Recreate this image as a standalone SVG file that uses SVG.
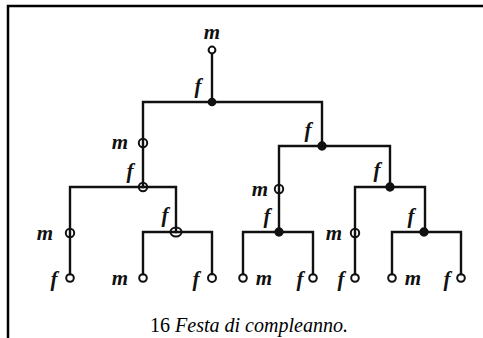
<svg xmlns="http://www.w3.org/2000/svg" width="483" height="338" viewBox="0 0 483 338">
  <style>
    .frame { stroke: #000; stroke-width: 2.5; fill: none; }
    .edge { stroke: #111; stroke-width: 2.4; fill: none; stroke-linecap: square; }
    .open { fill: none; stroke: #111; stroke-width: 2; }
    .dot { fill: #111; stroke: #111; stroke-width: 1.5; }
    .lbl { font-family: "Liberation Serif", "DejaVu Serif", serif; font-style: italic; font-weight: bold; font-size: 21px; fill: #111; }
    .cap { font-family: "Liberation Serif", "DejaVu Serif", serif; font-size: 22px; fill: #000; }
  </style>
  <rect width="483" height="338" fill="#fff"/>
  <!-- frame: top and left rule -->
  <path class="frame" d="M8 338 V6 H483"/>

  <!-- connectors -->
  <g id="connectors">
    <path class="edge" d="M212 54 V102"/>
    <path class="edge" d="M143 187 V102 H322 V146"/>
    <path class="edge" d="M279 232 V146 H390 V187"/>
    <path class="edge" d="M70 274 V187 H176 V232"/>
    <path class="edge" d="M143 274 V232 H212 V274"/>
    <path class="edge" d="M243 274 V232 H313 V274"/>
    <path class="edge" d="M355 274 V187 H425 V232"/>
    <path class="edge" d="M392 274 V232 H461 V274"/>
  </g>

  <!-- nodes -->
  <g id="n-root"><circle class="open" cx="212" cy="50" r="3.4"/><text class="lbl" x="212" y="39" text-anchor="middle">m</text></g>
  <g id="n-top"><circle class="dot" cx="212" cy="102" r="3.6"/><text class="lbl" x="198" y="93" text-anchor="middle">f</text></g>
  <g id="n-l1m"><circle class="open" cx="143" cy="143" r="4.2"/><text class="lbl" x="120" y="149" text-anchor="middle">m</text></g>
  <g id="n-l1f"><circle class="open" cx="143" cy="187" r="4.2"/><text class="lbl" x="130" y="178" text-anchor="middle">f</text></g>
  <g id="n-r1f"><circle class="dot" cx="322" cy="146" r="3.9"/><text class="lbl" x="308" y="137" text-anchor="middle">f</text></g>
  <g id="n-llm"><circle class="open" cx="70" cy="233" r="4.2"/><text class="lbl" x="45" y="240" text-anchor="middle">m</text></g>
  <g id="n-llf"><circle class="open" cx="70" cy="278" r="3.8"/><text class="lbl" x="54" y="286" text-anchor="middle">f</text></g>
  <g id="n-lrf"><ellipse class="open" cx="176" cy="232" rx="5.5" ry="4.4"/><text class="lbl" x="165" y="222" text-anchor="middle">f</text></g>
  <g id="n-lrm"><circle class="open" cx="143" cy="278" r="3.8"/><text class="lbl" x="120" y="285" text-anchor="middle">m</text></g>
  <g id="n-lrf2"><circle class="open" cx="212" cy="278" r="4"/><text class="lbl" x="196" y="286" text-anchor="middle">f</text></g>
  <g id="n-mm"><circle class="open" cx="279" cy="189" r="4.2"/><text class="lbl" x="260" y="196" text-anchor="middle">m</text></g>
  <g id="n-mf"><circle class="dot" cx="279" cy="232" r="3.9"/><text class="lbl" x="267" y="223" text-anchor="middle">f</text></g>
  <g id="n-mlm"><circle class="open" cx="243" cy="278" r="3.8"/><text class="lbl" x="264" y="285" text-anchor="middle">m</text></g>
  <g id="n-mrf"><circle class="open" cx="313" cy="278" r="3.8"/><text class="lbl" x="300" y="286" text-anchor="middle">f</text></g>
  <g id="n-rf"><circle class="dot" cx="390" cy="187" r="3.9"/><text class="lbl" x="377" y="177" text-anchor="middle">f</text></g>
  <g id="n-rlm"><circle class="open" cx="355" cy="233" r="4.2"/><text class="lbl" x="334" y="240" text-anchor="middle">m</text></g>
  <g id="n-rlf"><circle class="open" cx="355" cy="278" r="3.8"/><text class="lbl" x="341" y="286" text-anchor="middle">f</text></g>
  <g id="n-rrf"><circle class="dot" cx="424" cy="232" r="3.9"/><text class="lbl" x="411" y="223" text-anchor="middle">f</text></g>
  <g id="n-rrm"><circle class="open" cx="392" cy="278" r="3.8"/><text class="lbl" x="413" y="285" text-anchor="middle">m</text></g>
  <g id="n-rrf2"><circle class="open" cx="461" cy="278" r="3.8"/><text class="lbl" x="447" y="286" text-anchor="middle">f</text></g>

  <!-- caption -->
  <text class="cap" x="150" y="332" textLength="198" lengthAdjust="spacingAndGlyphs">16 <tspan font-style="italic">Festa di compleanno.</tspan></text>
</svg>
